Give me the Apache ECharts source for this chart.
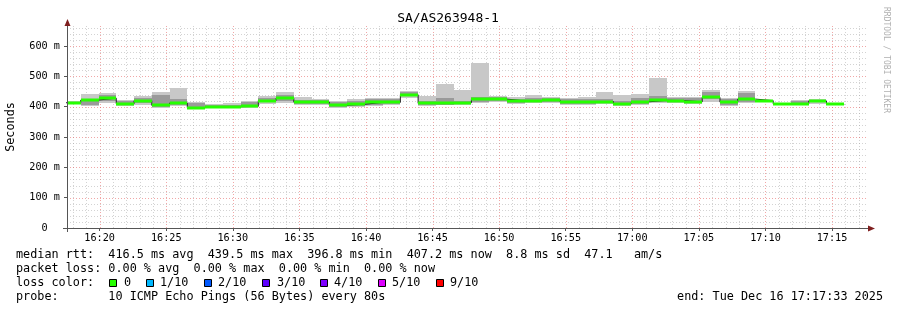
<!DOCTYPE html>
<html><head><meta charset="utf-8">
<script src="https://cdn.jsdelivr.net/npm/echarts@6/dist/echarts.min.js"></script>
<style>html,body{margin:0;padding:0;background:#fff}#c{width:897px;height:310px}</style>
</head><body><div id="c"></div>
<script>
// ---- data (seconds since 16:00 for time, ms for values) ----
const chartTitle = 'SA/AS263948-1';
const stepStart = [1035,1115,1195,1275,1355,1435,1515,1595,1675,1755,
  1835,1915,1995,2075,2155,2235,2315,2395,2475,2555,
  2635,2715,2795,2875,2955,3035,3115,3195,3275,3355,
  3435,3515,3595,3675,3755,3835,3915,3995,4075,4155,
  4235,4315,4395,4475];
const stepEnd = 4555;
const medianRtt = [413,422,428,409,420,404,412,397,399,400,
  401,420,428,415,415,405,408,414,414,439.5,
  411,412,413,424,425,419,420,422,415,416,
  417,409,416,421,420,416,431,415,425,420,
  409,410,419,407.2];
const smokeMin = [408,403,412,401,405,395,402,391,394,395,
  396,410,413,406,406,397,399,401,406,428,
  403,405,405,413,416,408,412,412,406,406,
  409,402,404,411,413,408,414,403,411,416,
  405,406,410,404];
const smokeMax = [418,442,446,423,436,447,461,417,410,413,
  420,436,449,432,426,420,424,430,427,452,
  435,476,456,544,436,432,439,431,428,433,
  449,440,443,495,431,433,455,428,452,423,
  412,422,425,412];
const smokeInnerLow = [410,404,418,405,412,400,405,393,396,397,
  398,414,418,410,410,400,402,405,408,434,
  406,407,408,416,419,411,415,416,410,410,
  412,405,408,414,415,411,426,406,416,418,
  407,408,414,406];
const smokeInnerHigh = [416,424,437,418,430,438,425,412,406,406,
  415,430,438,422,423,417,420,426,424,447,
  420,428,420,432,432,425,428,428,424,424,
  425,418,428,434,429,427,448,424,446,422,
  411,418,421,410];
const xTickSeconds = [1200,1500,1800,2100,2400,2700,3000,3300,3600,3900,4200,4500];
const yTickValues = [0,100,200,300,400,500,600];
const xRange = [1053, 4653];
const yMax = 666;
const legendLines = [
  'median rtt:  416.5 ms avg  439.5 ms max  396.8 ms min  407.2 ms now  8.8 ms sd  47.1   am/s',
  'packet loss: 0.00 % avg  0.00 % max  0.00 % min  0.00 % now',
  'loss color:',
  'probe:       10 ICMP Echo Pings (56 Bytes) every 80s'
];
const lossLabels = ['0','1/10','2/10','3/10','4/10','5/10','9/10'];
const lossColors = ['#26ff00','#00b8ff','#0059ff','#5e00ff','#7e00ff','#dd00ff','#ff0000'];
const endText = 'end: Tue Dec 16 17:17:33 2025';
const watermark = 'RRDTOOL / TOBI OETIKER';

// ---- derived ----
const stepStop = stepStart.map((t, i) => i + 1 < stepStart.length ? stepStart[i + 1] : stepEnd);
const outerData = stepStart.map((t, i) => [t, stepStop[i], smokeMin[i], smokeMax[i]]);
const innerData = stepStart.map((t, i) => [t, stepStop[i], smokeInnerLow[i], smokeInnerHigh[i]]);
const medData = stepStart.map((t, i) => [t, stepStop[i], medianRtt[i]]);
const medLine = stepStart.map((t, i) => [t, medianRtt[i]]).concat([[stepEnd, medianRtt[medianRtt.length - 1]]]);

const vGrid = [];
for (let s = 1080; s <= xRange[1]; s += 60) vGrid.push([s, xTickSeconds.indexOf(s) >= 0 ? 1 : 0]);
const hGrid = [];
for (let v = 20; v <= yMax; v += 20) hGrid.push([v, yTickValues.indexOf(v) >= 0 ? 1 : 0]);

const MONO = '"DejaVu Sans Mono", "Liberation Mono", monospace';
const LEG = '11.8px ' + MONO;
const minorColor = 'rgba(150,150,150,0.42)';
const majorColor = 'rgba(225,60,60,0.45)';

function rectRender(color) {
  return function (params, api) {
    const p0 = api.coord([api.value(0), api.value(3)]);
    const p1 = api.coord([api.value(1), api.value(2)]);
    const cs = params.coordSys;
    const x0 = Math.round(p0[0]), x1 = Math.round(p1[0]);
    const y0 = Math.round(p0[1]), y1 = Math.round(p1[1]);
    const shape = echarts.graphic.clipRectByRect(
      {x: x0, y: y0, width: x1 - x0, height: y1 - y0},
      {x: cs.x, y: cs.y, width: cs.width, height: cs.height});
    if (!shape) return;
    return {type: 'rect', shape: shape, style: {fill: color}};
  };
}

const chart = echarts.init(document.getElementById('c'), null, {renderer: 'canvas'});
const graphics = [];
graphics.push({type: 'text', style: {text: chartTitle, x: 448, y: 19, font: '13px ' + MONO, fill: '#000', textAlign: 'center', textVerticalAlign: 'middle', align: 'center', verticalAlign: 'middle'}});
graphics.push({type: 'text', rotation: Math.PI / 2, x: 11, y: 127, style: {text: 'Seconds', x: 0, y: 0, font: LEG, fill: '#000', textAlign: 'center', textVerticalAlign: 'middle', align: 'center', verticalAlign: 'middle'}});
graphics.push({type: 'text', rotation: -Math.PI / 2, x: 886, y: 60, style: {text: watermark, x: 0, y: 0, font: '8px ' + MONO, fill: '#b0b0b0', textAlign: 'center', textVerticalAlign: 'middle', align: 'center', verticalAlign: 'middle'}});
const rowY = [255, 268.7, 282.7, 296.8];
legendLines.forEach((t, i) => {
  graphics.push({type: 'text', style: {text: t, x: 16, y: rowY[i], font: LEG, fill: '#000', textVerticalAlign: 'middle', verticalAlign: 'middle'}});
});
graphics.push({type: 'text', style: {text: endText, x: 883, y: rowY[3], font: LEG, fill: '#000', textAlign: 'right', align: 'right', textVerticalAlign: 'middle', verticalAlign: 'middle'}});
const boxX = [109, 146, 204, 262, 320, 378, 436];
const labX = [124, 160, 218, 277, 334, 392, 450];
lossLabels.forEach((l, i) => {
  graphics.push({type: 'rect', shape: {x: boxX[i] + 0.5, y: 279.5, width: 7, height: 7}, style: {fill: lossColors[i], stroke: '#000', lineWidth: 1}});
  graphics.push({type: 'text', style: {text: l, x: labX[i], y: rowY[2], font: LEG, fill: '#000', textVerticalAlign: 'middle', verticalAlign: 'middle'}});
});
// axes lines and arrows
graphics.push({type: 'line', shape: {x1: 67.5, y1: 232, x2: 67.5, y2: 24}, style: {stroke: '#555', lineWidth: 1}, z: 100});
graphics.push({type: 'line', shape: {x1: 63, y1: 228.5, x2: 869, y2: 228.5}, style: {stroke: '#555', lineWidth: 1}, z: 100});
graphics.push({type: 'polygon', shape: {points: [[67.5, 19], [64.5, 26], [70.5, 26]]}, style: {fill: '#7f1f1f'}, z: 101});
graphics.push({type: 'polygon', shape: {points: [[875, 228.5], [868, 225.5], [868, 231.5]]}, style: {fill: '#7f1f1f'}, z: 101});

const option = {
  animation: false,
  backgroundColor: '#ffffff',
  grid: {left: 67, right: 31, top: 26, bottom: 82, show: false},
  xAxis: {
    type: 'value', min: xRange[0], max: xRange[1],
    splitLine: {show: false},
    axisLine: {show: false},
    axisTick: {show: true, customValues: xTickSeconds, length: 3, lineStyle: {color: '#555'}},
    axisLabel: {
      customValues: xTickSeconds, margin: 5,
      fontFamily: MONO, fontSize: 10.2, color: '#000',
      formatter: function (v) {
        const h = 16 + Math.floor(v / 3600);
        const m = Math.floor((v % 3600) / 60);
        return h + ':' + (m < 10 ? '0' + m : m);
      }
    }
  },
  yAxis: {
    type: 'value', min: 0, max: yMax,
    splitLine: {show: false},
    axisLine: {show: false},
    axisTick: {show: true, customValues: yTickValues, length: 3, lineStyle: {color: '#555'}},
    axisLabel: {
      customValues: yTickValues, margin: 7,
      fontFamily: MONO, fontSize: 10.2, color: '#000',
      formatter: function (v) { return v === 0 ? '0  ' : v + ' m'; }
    }
  },
  graphic: graphics,
  series: [
    {
      type: 'custom', z: 1, silent: true, data: vGrid, encode: {x: 0},
      renderItem: function (params, api) {
        const x = Math.round(api.coord([api.value(0), 0])[0]) + 0.5;
        const cs = params.coordSys;
        return {type: 'line', shape: {x1: x, y1: cs.y + cs.height, x2: x, y2: cs.y},
          style: {stroke: api.value(1) ? majorColor : minorColor, lineWidth: 1, lineDash: [1, 2]}};
      }
    },
    {
      type: 'custom', z: 1, silent: true, data: hGrid, encode: {y: 0},
      renderItem: function (params, api) {
        const y = Math.round(api.coord([xRange[0], api.value(0)])[1]) + 0.5;
        const cs = params.coordSys;
        return {type: 'line', shape: {x1: cs.x, y1: y, x2: cs.x + cs.width, y2: y},
          style: {stroke: api.value(1) ? majorColor : minorColor, lineWidth: 1, lineDash: [1, 2]}};
      }
    },
    {type: 'custom', z: 2, silent: true, data: outerData, encode: {x: [0, 1], y: [2, 3]}, renderItem: rectRender('#c8c8c8')},
    {type: 'custom', z: 3, silent: true, data: innerData, encode: {x: [0, 1], y: [2, 3]}, renderItem: rectRender('#9a9a9a')},
    {type: 'line', z: 4, silent: true, step: 'end', data: medLine, symbol: 'none',
      lineStyle: {color: '#202020', width: 1}},
    {
      type: 'custom', z: 5, silent: true, data: medData, encode: {x: [0, 1], y: 2},
      renderItem: function (params, api) {
        const p0 = api.coord([api.value(0), api.value(2)]);
        const p1 = api.coord([api.value(1), api.value(2)]);
        const cs = params.coordSys;
        const x0 = Math.round(p0[0]), x1 = Math.round(p1[0]);
        const yc = Math.round(p0[1]);
        const shape = echarts.graphic.clipRectByRect(
          {x: x0, y: yc - 1.5, width: x1 - x0, height: 3},
          {x: cs.x, y: cs.y, width: cs.width, height: cs.height});
        if (!shape) return;
        return {type: 'rect', shape: shape, style: {fill: lossColors[0]}};
      }
    }
  ]
};
chart.setOption(option);
</script>
</body></html>
